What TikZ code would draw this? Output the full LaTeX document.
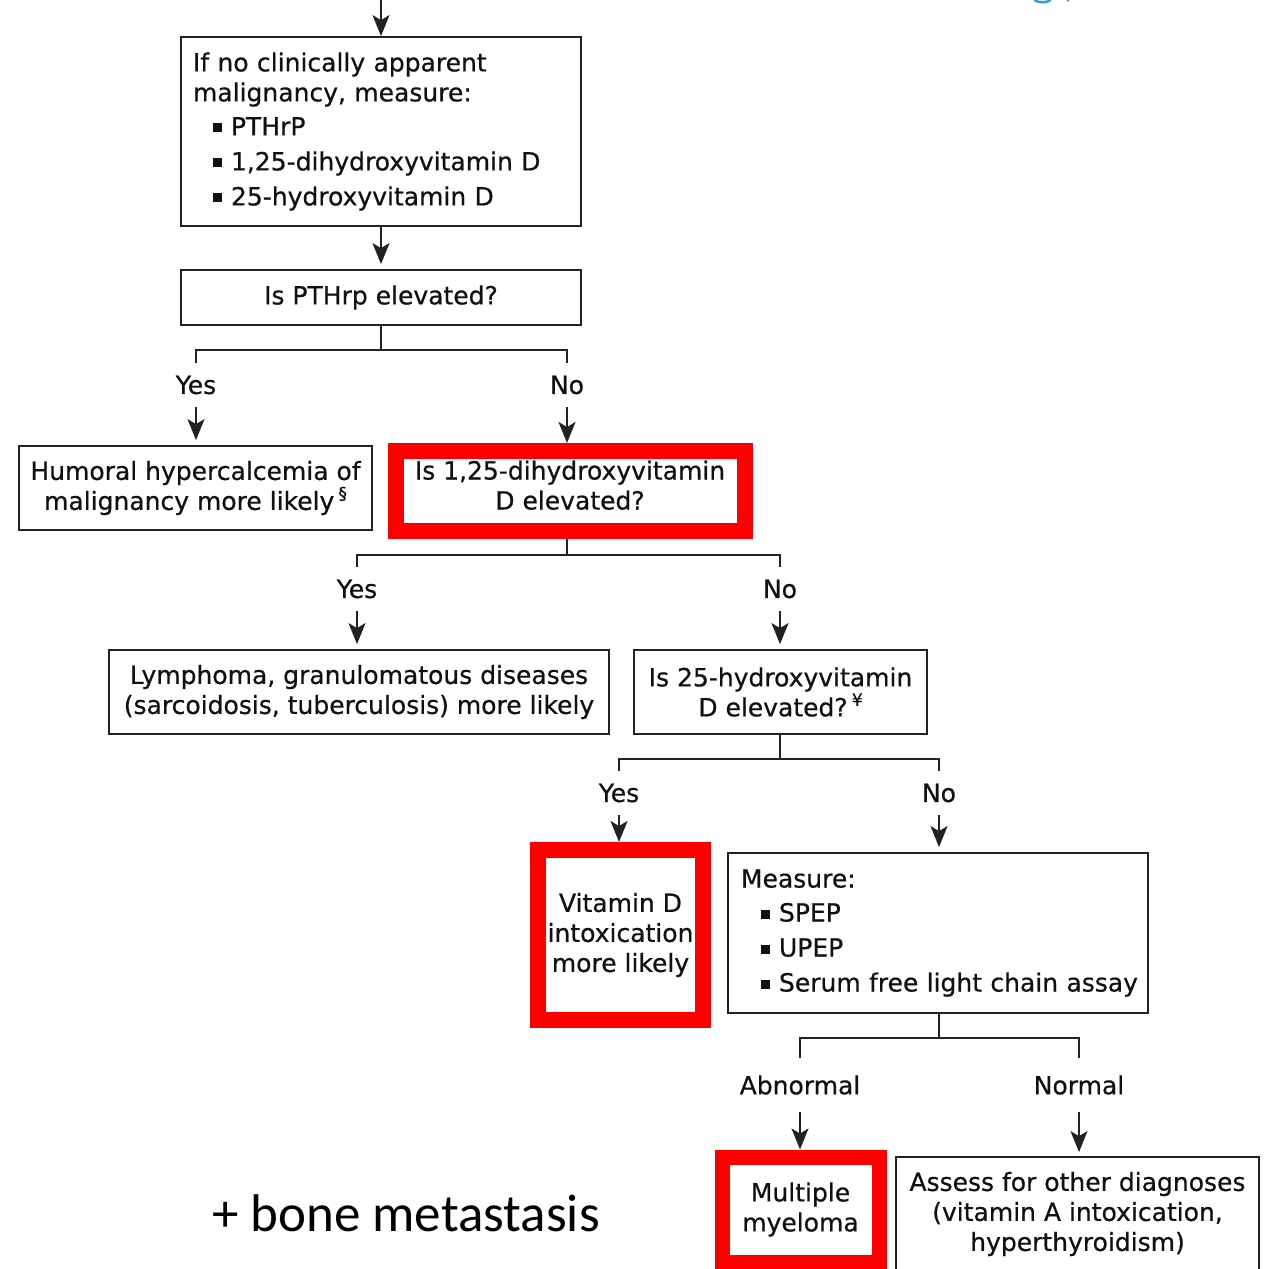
\documentclass[tikz,border=0pt]{standalone}
\usepackage{fontspec}
\setmainfont{DejaVu Sans}
\newfontfamily\dejavfont{DejaVu Sans}[FakeBold=0.6]
\newfontfamily\calibfont{Carlito}
\usetikzlibrary{arrows.meta}
\definecolor{txt}{HTML}{111111}
\definecolor{ln}{HTML}{222222}
\definecolor{logoblue}{HTML}{3A9BE0}
\newcommand\dfont{\dejavfont\fontsize{25}{30}\selectfont\hyphenpenalty=10000}
\newcommand\bulitem{\hspace*{20pt}\rule[3pt]{9pt}{9pt}\hspace{9pt}}
\newcommand\supmark[1]{\,\raisebox{0.42em}{\fontsize{17}{17}\selectfont #1}}
\begin{document}
\begin{tikzpicture}[x=1pt,y=-1pt,
  box/.style={draw=ln, line width=1.8pt, inner sep=0pt, font=\dfont, text=txt, align=center},
  redbox/.style={draw=red, line width=16pt, inner sep=0pt, font=\dfont, text=txt, align=center},
  lbl/.style={inner sep=0pt, minimum height=44pt, font=\dfont, text=txt},
  conn/.style={draw=ln, line width=1.8pt},
  arr/.style={conn, -{Stealth[length=21pt,width=17pt,inset=5pt]}},
  arrb/.style={arr, shorten >=5pt},
]
\useasboundingbox (0,0) rectangle (1268,1269);

% partial logo at top right
\draw[logoblue, line width=2.5pt] (1034,0) .. controls (1039,3) and (1046,3) .. (1051,0);
\fill[black!45] (1068,0.5) circle (1.3pt);

% boxes
\coordinate (top) at (381,0);
\node[box, align=left, text width=376pt, inner xsep=12pt, minimum height=189pt] (b1) at (381,131.5)
  {If no clinically apparent\\ malignancy, measure:\\[4pt]
   \bulitem PTHrP\\[5pt]
   \bulitem 1,25-dihydroxyvitamin D\\[5pt]
   \bulitem 25-hydroxyvitamin D};
\node[box, minimum width=400pt, minimum height=55pt] (b2) at (381,297.5) {Is PTHrp elevated?};

\node[lbl] (yes1) at (196,385) {Yes};
\node[lbl] (no1) at (567,385) {No};
\coordinate (j1) at (381,350);

\node[box, minimum width=353pt, minimum height=84pt] (b3) at (195.5,488)
  {Humoral hypercalcemia of\\ malignancy more likely\supmark{§}};
\node[redbox, minimum width=349pt, minimum height=80pt] (b4) at (570,491)
  {Is 1,25-dihydroxyvitamin\\ D elevated?\\[-18pt]\mbox{}};

\node[lbl] (yes2) at (357,589) {Yes};
\node[lbl] (no2) at (780,589) {No};
\coordinate (j2) at (567,555);

\node[box, minimum width=500pt, minimum height=84pt] (b5) at (359,692)
  {Lymphoma, granulomatous diseases\\ (sarcoidosis, tuberculosis) more likely};
\node[box, minimum width=293pt, minimum height=84pt] (b6) at (780.5,692)
  {Is 25-hydroxyvitamin\\ D elevated?\supmark{¥}};

\node[lbl] (yes3) at (619,793) {Yes};
\node[lbl] (no3) at (939,793) {No};
\coordinate (j3) at (780,759);

\node[redbox, minimum width=165pt, minimum height=170pt] (b7) at (620.5,935)
  {Vitamin D\\ intoxication\\ more likely};
\node[box, align=left, text width=394pt, inner xsep=13pt, minimum height=160pt] (b8) at (938,933)
  {Measure:\\[4pt]
   \bulitem SPEP\\[5pt]
   \bulitem UPEP\\[5pt]
   \bulitem \mbox{Serum free light chain assay}};

\node[lbl, minimum height=54pt] (ab) at (800,1085) {Abnormal};
\node[lbl, minimum height=54pt] (nm) at (1079,1085) {Normal};
\coordinate (j4) at (939,1038);

\node[redbox, line width=15pt, minimum width=157pt, minimum height=105pt] (b9) at (800.5,1209.5)
  {Multiple\\ myeloma};
\node[box, draw=none, minimum width=361pt, minimum height=112pt] (b10) at (1077.5,1214)
  {Assess for other diagnoses\\ (vitamin A intoxication,\\ hyperthyroidism)};
\coordinate (bot) at (0,1272);
\draw[conn] (b10.north west |- bot) -- (b10.north west) -- (b10.north east) -- (b10.north east |- bot);

% connectors
\draw[arr] (top) -- (b1.north);
\draw[arrb] (b1.south) -- (b2.north);

\draw[conn] (b2.south -| j1) -- (j1);
\draw[conn] (yes1.north) |- (j1) -| (no1.north);
\draw[arrb] (yes1.south) -- (yes1.south |- b3.north);
\draw[arr] (no1.south) -- (no1.south |- b4.north);

\draw[conn] (b4.south -| j2) -- (j2);
\draw[conn] (yes2.north) |- (j2) -| (no2.north);
\draw[arrb] (yes2.south) -- (yes2.south |- b5.north);
\draw[arrb] (no2.south) -- (no2.south |- b6.north);

\draw[conn] (b6.south -| j3) -- (j3);
\draw[conn] (yes3.north) |- (j3) -| (no3.north);
\draw[arr] (yes3.south) -- (yes3.south |- b7.north);
\draw[arrb] (no3.south) -- (no3.south |- b8.north);

\draw[conn] (b8.south -| j4) -- (j4);
\draw[conn] (ab.north) |- (j4) -| (nm.north);
\draw[arr] (ab.south) -- (ab.south |- b9.north);
\draw[arrb] (nm.south) -- (nm.south |- b10.north);

% annotation
\node[font=\calibfont\fontsize{53}{60}\selectfont, text=black, inner sep=0pt] (note) at (406,1213) {+ bone metastasis};
\end{tikzpicture}
\end{document}
